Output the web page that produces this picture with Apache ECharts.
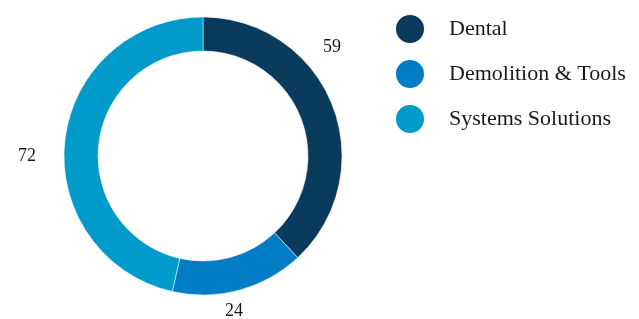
<!DOCTYPE html>
<html>
<head>
<meta charset="utf-8">
<script src="https://cdn.jsdelivr.net/npm/echarts@6/dist/echarts.min.js"></script>
<style>
html, body { margin: 0; padding: 0; background: #fff; }
#chart { width: 639px; height: 319px; }
</style>
</head>
<body>
<div id="chart"></div>
<script>
/** 业务板块 环形图 */
let segments = ["Dental", "Demolition & Tools", "Systems Solutions"];
let values = [59, 24, 72];
let colors = ["#0a3b5d", "#007dc4", "#009bca"];

let ring_chart = echarts.init(document.getElementById("chart"));
let ring_data = segments.map(function (name, i) {
	return { name: name, value: values[i], itemStyle: { color: colors[i] } };
});

let ring_option = {
	animation: false,
	legend: {
		orient: "vertical",
		left: 394,
		top: 13,
		padding: 0,
		icon: "circle",
		itemWidth: 30,
		itemHeight: 30,
		itemGap: 13,
		data: segments,
		textStyle: {
			fontFamily: "Liberation Serif",
			fontSize: 22,
			color: "#1a1a1a",
			padding: [0, 0, 0, 19],
		},
	},
	series: [
		{
			type: "pie",
			center: [203, 156],
			radius: [105, 139],
			startAngle: 90,
			clockwise: true,
			avoidLabelOverlap: false,
			itemStyle: {
				borderColor: "#fff",
				borderWidth: 0.5,
			},
			label: {
				show: true,
				position: "outside",
				formatter: "{c}",
				fontFamily: "Liberation Serif",
				fontSize: 18,
				color: "#1a1a1a",
			},
			labelLine: { show: false },
			// 标签位置微调
			labelLayout: function (params) {
				let pos = [[332, 47], [234, 311], [27, 156]];
				return {
					x: pos[params.dataIndex][0],
					y: pos[params.dataIndex][1],
					align: "center",
					verticalAlign: "middle",
					hideOverlap: false,
				};
			},
			data: ring_data,
		},
	],
};
ring_chart.setOption(ring_option);
</script>
</body>
</html>
